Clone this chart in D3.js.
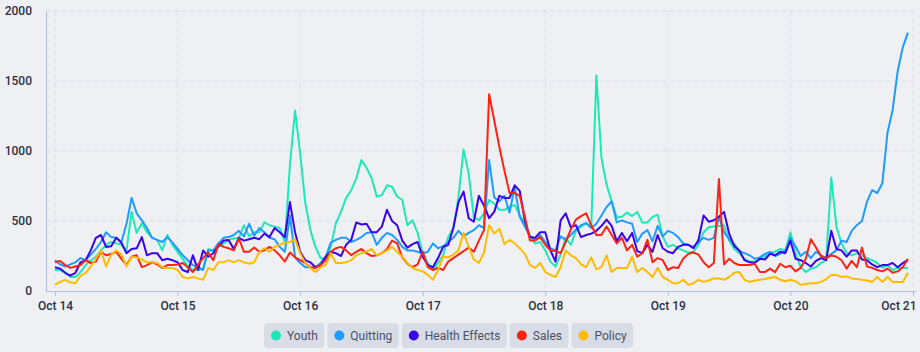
<!DOCTYPE html>
<html>
<head>
<meta charset="utf-8">
<script src="https://cdn.jsdelivr.net/npm/d3@7"></script>
<style>
  body { margin: 0; background: #eff0f3; }
  svg { display: block; font-family: Roboto, "Noto Sans", sans-serif; }
</style>
</head>
<body>
<svg width="920" height="352"></svg>
<script>
const width = 920;
const height = 352;

// hourly mention counts, Oct 14 00:00 -> Oct 20 23:00 (one row per day)
const youth = [
  150,150,130,100,100,135,185,220,245,290,330,350,340,330,290,565,415,485,420,380,365,290,400,330,
  280,230,180,150,150,160,300,285,315,340,365,375,380,470,390,420,420,490,470,460,450,350,900,1290,
  985,630,435,315,235,230,315,485,565,665,720,805,935,880,805,675,685,755,745,675,650,470,505,415,
  270,200,150,200,255,385,450,670,1010,840,530,505,555,650,625,580,580,600,615,540,485,385,340,350,
  290,210,175,260,380,330,430,460,485,460,1540,950,760,640,525,530,560,535,565,490,490,530,545,390,
  315,330,305,290,275,280,330,420,455,460,465,470,360,300,270,230,210,210,225,250,270,280,300,290,
  420,270,170,135,160,170,200,220,810,460,340,270,255,270,255,235,220,200,165,185,150,165,165,165
];
const quitting = [
  220,190,175,190,205,235,220,260,300,350,420,385,380,350,480,665,555,505,450,380,365,350,385,345,
  300,255,220,185,170,150,290,290,340,380,385,400,430,390,480,395,450,420,380,370,315,280,540,240,
  200,170,170,170,200,245,345,365,380,380,350,365,385,415,420,330,380,415,400,365,315,290,290,280,
  270,280,340,305,320,350,380,430,390,415,435,470,450,935,670,640,680,560,740,530,460,390,365,400,
  350,305,290,390,365,400,440,470,485,450,480,540,600,640,490,505,490,480,350,410,435,355,465,390,
  430,415,385,340,330,315,350,380,365,380,530,420,370,335,285,270,255,230,240,265,280,250,265,290,
  380,320,250,280,235,280,255,235,265,290,360,350,430,470,500,640,720,700,770,1130,1290,1570,1740,1845
];
const healthEffects = [
  170,160,130,110,130,205,220,290,380,400,315,320,380,345,270,300,305,385,255,270,270,220,230,220,
  205,150,135,255,150,290,245,270,320,360,365,300,380,360,370,380,370,410,385,450,420,385,635,420,
  280,220,205,170,185,245,280,270,250,330,365,490,475,480,420,420,460,580,500,470,360,310,335,350,
  245,185,170,235,315,330,450,635,710,520,495,680,610,520,565,680,665,665,755,715,500,385,380,420,
  420,290,210,505,555,455,470,385,400,410,430,465,510,465,355,415,355,415,285,270,330,280,400,305,
  280,270,315,330,330,305,365,540,495,505,530,565,410,320,290,220,205,200,230,225,265,255,280,270,
  360,230,220,200,175,215,235,220,430,300,290,245,290,290,225,220,190,170,185,185,200,170,200,220
];
const sales = [
  205,215,185,165,175,185,220,200,210,280,255,265,280,230,185,245,255,170,185,205,190,165,185,185,
  190,200,170,135,190,235,275,220,335,315,305,290,375,280,280,310,280,290,315,290,255,210,275,240,
  220,200,170,165,185,220,280,305,315,290,255,280,300,270,250,255,270,300,360,340,240,195,170,190,
  280,170,150,165,150,210,235,260,285,310,280,360,435,1405,1220,1030,860,700,700,680,530,360,360,385,
  330,290,285,270,350,440,510,535,555,470,400,400,460,400,340,380,290,330,245,270,365,205,235,220,
  150,170,165,230,265,275,260,205,170,200,800,190,230,200,185,185,185,195,135,135,160,135,195,170,
  180,140,165,230,370,310,250,235,255,245,220,160,215,170,310,175,165,150,140,160,130,140,170,230
];
const policy = [
  45,65,80,60,55,110,130,175,230,290,175,260,290,260,175,245,240,225,205,205,200,170,165,165,
  150,100,90,100,90,80,165,150,205,205,220,205,220,205,195,205,280,305,280,315,330,345,350,370,
  270,200,165,135,170,185,270,200,200,205,220,255,270,280,300,255,270,290,315,280,245,200,165,150,
  140,115,80,150,245,240,260,290,415,315,225,200,275,470,410,445,335,365,340,305,265,185,165,200,
  135,115,100,170,290,255,235,190,170,240,155,170,255,135,165,165,165,245,135,165,135,100,165,100,
  80,55,55,80,45,55,80,65,75,90,90,80,100,130,135,80,65,75,80,85,95,100,80,70,
  80,70,45,50,55,55,65,85,115,115,100,105,90,85,80,75,65,100,65,100,65,65,65,130
];

const seriesNames = ["Youth", "Quitting", "Health Effects", "Sales", "Policy"];
const seriesColors = ["#1de9b6", "#1e9bff", "#3a00f0", "#ff2212", "#ffbb00"];
const seriesValues = [youth, quitting, healthEffects, sales, policy];
const yTicks = [0, 500, 1000, 1500, 2000];

const start = new Date(2019, 9, 14);
const hours = d3.range(youth.length).map(i => d3.timeHour.offset(start, i));

const svg = d3.select("svg")
    .attr("viewBox", [0, 0, width, height]);

svg.append("rect")
    .attr("width", width)
    .attr("height", height)
    .attr("fill", "#eff0f3");

const x = d3.scaleTime()
    .domain([start, d3.timeDay.offset(start, 7)])
    .range([55, 913]);

const y = d3.scaleLinear()
    .domain([0, 2000])
    .range([291, 11]);

const days = d3.timeDay.range(start, d3.timeDay.offset(start, 8));

// grid
const grid = svg.append("g")
    .attr("stroke", "#dce1ea")
    .attr("stroke-dasharray", "5,3");

grid.selectAll(".hgrid")
    .data(yTicks.slice(1))
    .join("line")
    .attr("x1", 46)
    .attr("x2", 914)
    .attr("y1", d => y(d))
    .attr("y2", d => y(d));

grid.selectAll(".vgrid")
    .data(days)
    .join("line")
    .attr("x1", d => x(d))
    .attr("x2", d => x(d))
    .attr("y1", 11)
    .attr("y2", 291);

// axes
const axisColor = "#b0bde0";

const yAxis = svg.append("g")
    .attr("transform", "translate(46,0)")
    .call(d3.axisLeft(y)
        .tickValues(yTicks)
        .tickFormat(d3.format("d"))
        .tickSize(0)
        .tickPadding(14));
yAxis.select(".domain").attr("stroke", axisColor);
yAxis.selectAll("text")
    .attr("fill", "#2a3044")
    .attr("font-size", 12)
    .attr("font-weight", 500)
    .attr("font-family", "Roboto, sans-serif");

const xAxis = svg.append("g")
    .attr("transform", "translate(0,291)")
    .call(d3.axisBottom(x)
        .tickValues(days)
        .tickFormat(d3.timeFormat("%b %-d"))
        .tickSize(5)
        .tickPadding(5));
xAxis.select(".domain").remove();
xAxis.selectAll("line").attr("stroke", axisColor);
xAxis.selectAll("text")
    .attr("fill", "#2a3044")
    .attr("font-size", 12)
    .attr("font-weight", 500)
    .attr("font-family", "Roboto, sans-serif");
// keep the last label inside the frame
xAxis.selectAll(".tick:last-of-type text")
    .attr("text-anchor", "end")
    .attr("x", 3);

svg.append("line")
    .attr("x1", 46)
    .attr("x2", 916)
    .attr("y1", 291.5)
    .attr("y2", 291.5)
    .attr("stroke", axisColor);

// lines
const line = d3.line()
    .x((d, i) => x(hours[i]))
    .y(d => y(d));

svg.append("g")
    .selectAll("path")
    .data(seriesValues)
    .join("path")
    .attr("fill", "none")
    .attr("stroke", (d, i) => seriesColors[i])
    .attr("stroke-width", 2)
    .attr("stroke-linejoin", "round")
    .attr("d", line);

// legend
const legend = svg.append("g").attr("transform", "translate(264,323)");
let lx = 0;
seriesNames.forEach((name, i) => {
    const item = legend.append("g").attr("transform", `translate(${lx},0)`);
    const rect = item.append("rect")
        .attr("height", 25)
        .attr("rx", 4)
        .attr("fill", "#d8dce4");
    item.append("circle")
        .attr("cx", 12)
        .attr("cy", 12.5)
        .attr("r", 5)
        .attr("fill", seriesColors[i]);
    const label = item.append("text")
        .attr("x", 23)
        .attr("y", 16.8)
        .attr("font-size", 12)
        .attr("fill", "#4a5068")
        .text(name);
    const w = label.node().getComputedTextLength();
    rect.attr("width", 23 + w + 6.5);
    lx += 23 + w + 6.5 + 3;
});
</script>
</body>
</html>
